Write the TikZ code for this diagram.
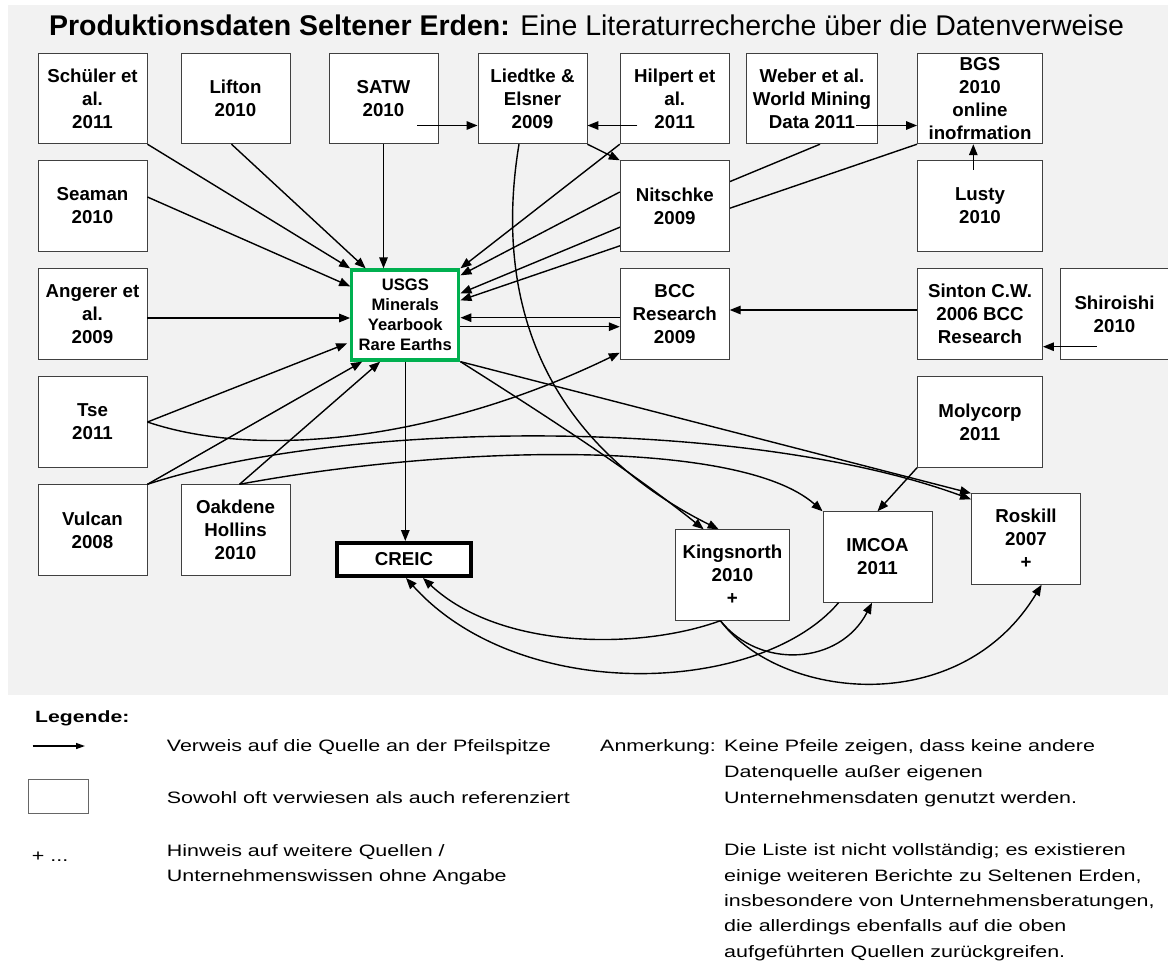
\documentclass[tikz,border=0pt]{standalone}
\usepackage{fontspec}
\setmainfont{Liberation Sans}
\newfontfamily\legfont[FakeStretch=1.3]{Liberation Sans}
\usetikzlibrary{arrows.meta,calc}
\definecolor{bgGray}{HTML}{F2F2F2}
\definecolor{usgsGreen}{HTML}{00B050}
\pgfdeclarelayer{bg}
\pgfdeclarelayer{mid}
\pgfsetlayers{bg,mid,main}
\newcommand{\bxfont}{\bfseries\fontsize{18.7}{23}\selectfont}
\newcommand{\usgsfont}{\bfseries\fontsize{16.6}{20}\selectfont}
\begin{document}
\begin{tikzpicture}[x=1pt,y=-1pt,
  box/.style={draw=black!75, line width=0.9pt, fill=white, minimum width=109pt, minimum height=90.5pt, inner sep=0pt, align=center, font=\bxfont},
  arr/.style={line width=1.4pt, -{Triangle[length=11pt,width=8.5pt]}},
  legarr/.style={line width=1.4pt, -{Triangle[length=9pt,width=6pt]}},
  leg/.style={anchor=base west, inner sep=0pt, font=\legfont\fontsize{16.5}{20}\selectfont},
]
\begin{pgfonlayer}{bg}
\fill[white] (0,0) rectangle (1168,962);
\fill[bgGray] (8,5) rectangle (1168,695);
\end{pgfonlayer}
\useasboundingbox (0,0) rectangle (1168,962);

% title
\node[inner sep=0pt, font=\fontsize{28.5}{34}\selectfont] (title) at (586.5,25) {\textbf{Produktionsdaten Seltener Erden:} Eine Literaturrecherche über die Datenverweise};

% boxes
\node[box] (schuler) at (92.5,98.5) {Schüler et\\al.\\2011};
\node[box] (lifton) at (235.5,98.5) {Lifton\\2010};
\node[box] (satw) at (383.5,98.5) {SATW\\2010};
\node[box] (liedtke) at (532.5,98.5) {Liedtke \&\\Elsner\\2009};
\node[box] (hilpert) at (674.75,98.5) {Hilpert et\\al.\\2011};
\node[box, minimum width=131pt] (weber) at (812,98.5) {Weber et al.\\World Mining\\Data 2011};
\node[box, minimum width=125pt] (bgs) at (980,98.5) {BGS\\2010\\online\\inofrmation};
\node[box] (seaman) at (92.5,206) {Seaman\\2010};
\node[box] (nitschke) at (674.75,206) {Nitschke\\2009};
\node[box, minimum width=125pt] (lusty) at (980,206) {Lusty\\2010};
\node[box] (angerer) at (92.5,314) {Angerer et\\al.\\2009};
\node[box, draw=usgsGreen, line width=3.3pt, minimum width=107pt, minimum height=90pt, font=\usgsfont] (usgs) at (405.3,315) {USGS\\Minerals\\Yearbook\\Rare Earths};
\node[box] (bcc) at (674.75,314) {BCC\\Research\\2009};
\node[box, minimum width=125pt] (sinton) at (980,314) {Sinton C.W.\\2006 BCC\\Research};
\node[box] (shiroishi) at (1114.5,314) {Shiroishi\\2010};
\node[box] (tse) at (92.5,422) {Tse\\2011};
\node[box, minimum width=125pt] (molycorp) at (980,422) {Molycorp\\2011};
\node[box] (vulcan) at (92.5,530) {Vulcan\\2008};
\node[box] (oakdene) at (235.5,530) {Oakdene\\Hollins\\2010};
\node[box, draw=black, line width=4pt, minimum width=134pt, minimum height=33pt] (creic) at (404,559.5) {CREIC};
\node[box, minimum width=113.6pt] (kingsnorth) at (732.4,575) {Kingsnorth\\2010\\+};
\node[box] (imcoa) at (877.5,557) {IMCOA\\2011};
\node[box] (roskill) at (1026,539) {Roskill\\2007\\+};

% connectors passing behind Nitschke
\begin{pgfonlayer}{mid}
\draw[arr] ($(weber.south)+(8,0)$) -- ($(usgs.north east)+(0,25)$);
\draw[arr] (bgs.south west) -- ($(usgs.north east)+(0,32)$);
\end{pgfonlayer}

% connectors into USGS
\draw[arr] (schuler.south east) -- (usgs.north west);
\draw[arr] ($(lifton.south)+(-4,0)$) -- ($(usgs.north west)+(15.5,0)$);
\draw[arr] (satw.south) -- (satw.south |- usgs.north);
\draw[arr] ($(seaman.east)+(0,-9)$) -- ($(usgs.north west)+(0,18)$);
\draw[arr] ($(angerer.east)+(0,4)$) -- ($(usgs.west)+(0,3)$);
\draw[arr] (tse.east) -- ($(usgs.north west)+(-3,75)$);
\draw[arr] (vulcan.north east) -- ($(usgs.south west)+(12,0)$);
\draw[arr] ($(oakdene.north)+(4,0)$) -- ($(usgs.south west)+(30,0)$);
\draw[arr] (hilpert.south west) -- (usgs.north east);
\draw[arr] ($(nitschke.west)+(0,-14)$) -- ($(usgs.north east)+(0,7)$);
\draw[arr] ($(bcc.west)+(0,3.7)$) -- ($(usgs.east)+(0,2.7)$);

% top row
\draw[arr] (liedtke.south east) -- (nitschke.north west);
\coordinate (s1) at ($(satw.east)+(-21,27)$);
\draw[arr] (s1) -- (s1 -| liedtke.west);
\coordinate (h1) at ($(hilpert.west)+(17.5,27)$);
\draw[arr] (h1) -- (h1 -| liedtke.east);
\coordinate (w1) at ($(weber.east)+(-21.7,27)$);
\draw[arr] (w1) -- (w1 -| bgs.west);
\coordinate (l1) at ($(lusty.north)+(-6.7,9.5)$);
\draw[arr] (l1) -- (l1 |- bgs.south);

% right side
\draw[arr] ($(sinton.west)+(0,-4)$) -- ($(bcc.east)+(0,-4)$);
\coordinate (sh1) at ($(shiroishi.west)+(37,32.7)$);
\draw[arr] (sh1) -- (sh1 -| sinton.east);
\draw[arr] ($(usgs.east)+(0,11.7)$) -- ($(bcc.west)+(0,12.7)$);
\draw[arr] (tse.east) .. controls (260,460) and (440,440) .. ($(bcc.south west)+(0,-7)$);

% downward
\draw[arr] (usgs.south) -- (usgs.south |- creic.north);
\draw[arr] (usgs.south east) .. controls (540,412) and (630,470) .. ($(kingsnorth.north)+(-28.7,0)$);
\draw[arr] ($(liedtke.south)+(-13.5,0)$) .. controls (490,320) and (560,450) .. ($(kingsnorth.north)+(-13.7,0)$);
\draw[arr] (usgs.south east) -- (roskill.north west);
\draw[arr] (vulcan.north east) .. controls (350,418) and (750,418) .. ($(roskill.north west)+(0,6)$);
\draw[arr] ($(oakdene.north)+(4,0)$) .. controls (450,445) and (740,438) .. (imcoa.north west);
\draw[arr] (molycorp.south west) -- (imcoa.north);

% bottom curves
\draw[arr] ($(kingsnorth.south)+(-12,0)$) .. controls (640,650) and (500,650) .. ($(creic.south)+(19,0)$);
\draw[arr] ($(imcoa.south west)+(16,0)$) .. controls (760,695) and (520,705) .. ($(creic.south)+(2,0)$);
\draw[arr] ($(kingsnorth.south)+(-12,0)$) .. controls (760,670) and (840,665) .. ($(imcoa.south)+(-5.5,0)$);
\draw[arr] ($(kingsnorth.south)+(-12,0)$) .. controls (780,700) and (960,720) .. ($(roskill.south)+(15.6,0)$);

% legend
\node[leg, font=\legfont\bfseries\fontsize{16.3}{20}\selectfont] (legtitle) at (35,722.5) {Legende:};
\coordinate (la1) at (32.7,746);
\coordinate (la2) at (85,746);
\draw[legarr] (la1) -- (la2);
\node[draw=black!60, fill=white, line width=0.9pt, minimum width=60pt, minimum height=34pt, inner sep=0pt] (legbox) at (58.3,796.3) {};
\node[leg] (legplus) at (31.7,861) {+ ...};
\node[leg] (leg1) at (166.7,751) {Verweis auf die Quelle an der Pfeilspitze};
\node[leg] (leg2) at (166.7,803) {Sowohl oft verwiesen als auch referenziert};
\node[leg] (leg3) at (166.7,856) {Hinweis auf weitere Quellen /};
\node[leg] (leg4) at (166.7,881) {Unternehmenswissen ohne Angabe};
\node[leg] (anm) at (600,751) {Anmerkung:};
\node[leg] (r1) at (724,751) {Keine Pfeile zeigen, dass keine andere};
\node[leg] (r2) at (724,777.7) {Datenquelle außer eigenen};
\node[leg] (r3) at (724,803.3) {Unternehmensdaten genutzt werden.};
\node[leg] (r4) at (724,855.3) {Die Liste ist nicht vollständig; es existieren};
\node[leg] (r5) at (724,881) {einige weiteren Berichte zu Seltenen Erden,};
\node[leg] (r6) at (724,906) {insbesondere von Unternehmensberatungen,};
\node[leg] (r7) at (724,931) {die allerdings ebenfalls auf die oben};
\node[leg] (r8) at (724,957) {aufgeführten Quellen zurückgreifen.};
\end{tikzpicture}
\end{document}
